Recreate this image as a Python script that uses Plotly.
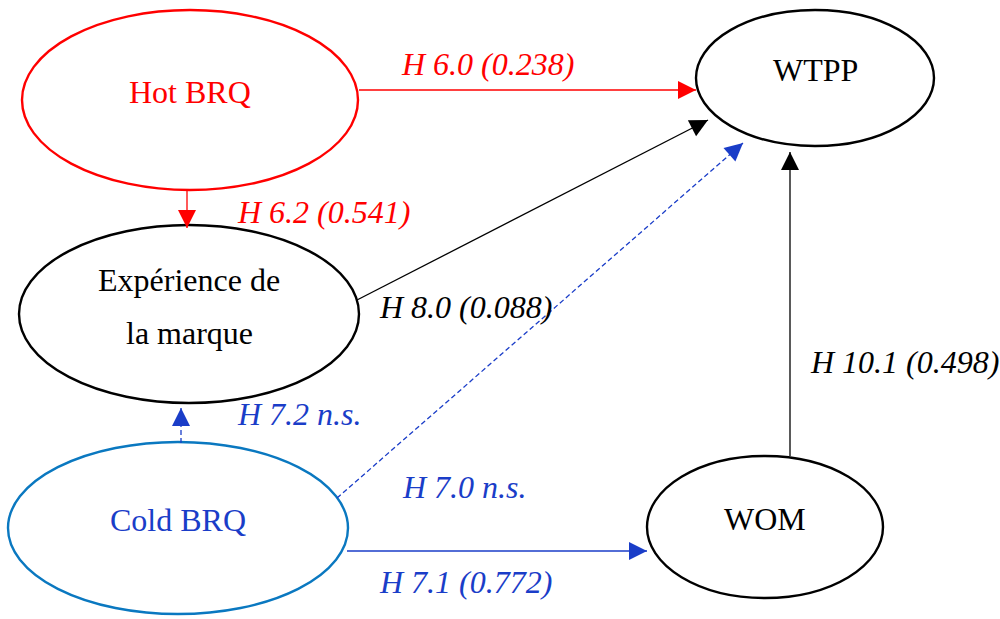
import math
import plotly.graph_objects as go

# nodes of the path model (pixel space of the diagram)
node_names = ["Hot BRQ", "WTPP", "Expérience de<br>la marque", "Cold BRQ", "WOM"]
node_x = [190, 815, 189, 178, 765]
node_y = [100, 78, 314, 528, 527]
node_rx = [168, 119, 170, 170, 118]
node_ry = [90, 68, 89, 86, 71]
node_line_colors = ["#FF0000", "black", "black", "#0A78C0", "black"]
node_text_colors = ["#FF0000", "black", "black", "#1A3DC8", "black"]

# edges: hypothesis labels and coefficients
edge_labels = ["H 6.0 (0.238)", "H 6.2 (0.541)", "H 8.0 (0.088)", "H 7.0 n.s.",
               "H 7.2 n.s.", "H 7.1 (0.772)", "H 10.1 (0.498)"]
edge_x0 = [359, 187, 357, 337, 181, 347, 790]
edge_y0 = [90, 190, 300, 498, 443, 551, 456]
edge_x1 = [696, 187, 708, 743, 181, 647, 790]
edge_y1 = [90, 228, 120, 143, 408, 551, 152]
edge_significant = [True, True, True, False, False, True, True]
edge_colors = ["#FF0000", "#FF0000", "black", "#1A3DC8", "#1A3DC8", "#1A3DC8", "black"]
label_x = [487, 323, 465, 464, 299, 465, 904]
label_y = [64, 212, 307, 487, 414, 582, 362]

FONT = "Liberation Serif, Times New Roman, serif"

fig = go.Figure()
shapes = []
annotations = []

# ellipses + node labels
for name, cx, cy, rx, ry, lc, tc in zip(node_names, node_x, node_y, node_rx, node_ry,
                                        node_line_colors, node_text_colors):
    shapes.append(dict(type="circle", xref="x", yref="y",
                       x0=cx - rx, x1=cx + rx, y0=cy - ry, y1=cy + ry,
                       line=dict(color=lc, width=2.4)))
    lines = name.split("<br>")
    gap = 53
    start = cy - 8 - gap * (len(lines) - 1) / 2
    for i, ln in enumerate(lines):
        annotations.append(dict(x=cx, y=start + i * gap, xref="x", yref="y",
                                text=ln, showarrow=False,
                                font=dict(family=FONT, size=32, color=tc)))

# arrows
for x0, y0, x1, y1, sig, col in zip(edge_x0, edge_y0, edge_x1, edge_y1,
                                    edge_significant, edge_colors):
    shapes.append(dict(type="line", xref="x", yref="y", x0=x0, y0=y0, x1=x1, y1=y1,
                       line=dict(color=col, width=1.3, dash="solid" if sig else "5px,3px")))
    d = math.hypot(x1 - x0, y1 - y0)
    ux, uy = (x1 - x0) / d, (y1 - y0) / d
    annotations.append(dict(x=x1, y=y1, ax=x1 - ux * 15, ay=y1 - uy * 15,
                            xref="x", yref="y", axref="x", ayref="y",
                            text="", showarrow=True, arrowhead=2,
                            arrowsize=3, arrowwidth=1.2, arrowcolor=col, standoff=0))

# edge labels
for lab, lx, ly, col in zip(edge_labels, label_x, label_y, edge_colors):
    annotations.append(dict(x=lx, y=ly, xref="x", yref="y", text="<i>" + lab + "</i>",
                            showarrow=False, font=dict(family=FONT, size=32, color=col)))

fig.update_layout(
    width=1000, height=619,
    margin=dict(l=0, r=0, t=0, b=0),
    plot_bgcolor="white", paper_bgcolor="white",
    xaxis=dict(range=[0, 1000], visible=False),
    yaxis=dict(range=[619, 0], visible=False),
    shapes=shapes, annotations=annotations,
    showlegend=False,
)

fig.write_html("out.html", config={"displayModeBar": False},
               post_script="document.body.style.margin='0px';")
